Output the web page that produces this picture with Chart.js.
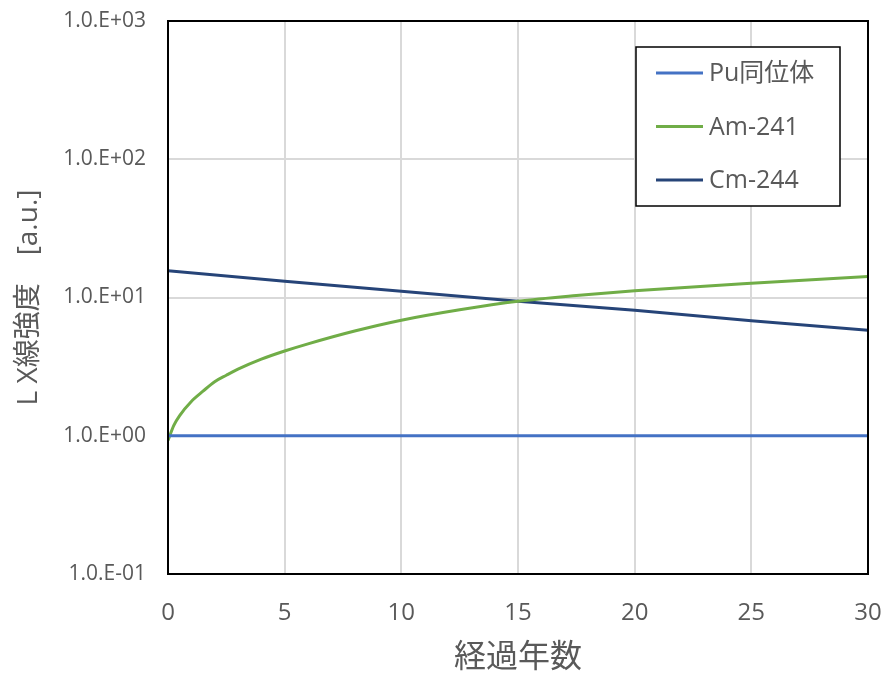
<!DOCTYPE html>
<html>
<head>
<meta charset="utf-8">
<script src="https://cdn.jsdelivr.net/npm/chart.js@4.4.1/dist/chart.umd.min.js"></script>
<style>
  html, body { margin: 0; padding: 0; background: #fff; }
  #wrap { width: 890px; height: 679px; }
</style>
</head>
<body>
<div id="wrap"><canvas id="chart_lx"></canvas></div>
<script>
// elapsed years and LX intensity per nuclide
const pu_years = [0, 30];
const pu_values = [1, 1];

const am_years = [0, 0.25, 0.5, 1, 1.5, 2, 2.5, 3, 4, 5, 6, 8, 10, 12.5, 15, 17.5, 20, 25, 30];
const am_values = [0.925, 1.19, 1.4, 1.77, 2.1, 2.46, 2.74, 3.03, 3.58, 4.1, 4.62, 5.72, 6.85, 8.15, 9.4, 10.35, 11.2, 12.7, 14.2];

const cm_years = [0, 5, 10, 15, 20, 25, 30];
const cm_values = [15.6, 13.1, 11.1, 9.4, 8.1, 6.8, 5.8];

const y_ticks = [0.1, 1, 10, 100, 1000];
const series_names = ["Pu同位体", "Am-241", "Cm-244"];
const series_colors = ["#4472C4", "#70AD47", "#264478"];

const font_family = "'Open Sans', 'Noto Sans CJK JP', sans-serif";
const text_gray = "#595959";

function toPoints(xs, ys){
    return xs.map(function(x, i){ return {x: x, y: ys[i]}; });
}

// Excel style "1.0.E+03"
function expLabel(v){
    const e = Math.round(Math.log10(v));
    const s = e < 0 ? "-" : "+";
    const n = Math.abs(e);
    return "1.0.E" + s + (n < 10 ? "0" + n : n);
}

// black frame round the plot area
const frame_plugin = {
    id: "frame",
    afterDatasetsDraw(chart){
        const a = chart.chartArea;
        const ctx = chart.ctx;
        ctx.save();
        ctx.strokeStyle = "#000";
        ctx.lineWidth = 2;
        ctx.strokeRect(a.left, a.top, a.right - a.left, a.bottom - a.top);
        ctx.restore();
    }
};

// boxed legend inside the plot, top right
const legend_box_plugin = {
    id: "legendBox",
    afterDraw(chart){
        const a = chart.chartArea;
        const ctx = chart.ctx;
        const bx = a.right - 232, by = a.top + 26, bw = 204, bh = 159;
        ctx.save();
        ctx.fillStyle = "#fff";
        ctx.fillRect(bx, by, bw, bh);
        ctx.strokeStyle = "#000";
        ctx.lineWidth = 1.5;
        ctx.strokeRect(bx, by, bw, bh);
        ctx.font = "25px " + font_family;
        ctx.textBaseline = "middle";
        ctx.fillStyle = text_gray;
        chart.data.datasets.forEach(function(ds, i){
            const yy = by + 26 + i * 53.5;
            ctx.strokeStyle = ds.borderColor;
            ctx.lineWidth = 3;
            ctx.beginPath();
            ctx.moveTo(bx + 20, yy);
            ctx.lineTo(bx + 67, yy);
            ctx.stroke();
            ctx.fillText(ds.label, bx + 73, yy + 1);
        });
        ctx.restore();
    }
};

const ctx_lx = document.querySelector("#chart_lx").getContext("2d");

const chart_lx = new Chart(ctx_lx, {
    type: "line",
    data: {
        datasets: [
            {label: series_names[0], data: toPoints(pu_years, pu_values), borderColor: series_colors[0]},
            {label: series_names[1], data: toPoints(am_years, am_values), borderColor: series_colors[1], cubicInterpolationMode: "monotone"},
            {label: series_names[2], data: toPoints(cm_years, cm_values), borderColor: series_colors[2]}
        ]
    },
    options: {
        responsive: true,
        maintainAspectRatio: false,
        animation: false,
        layout: { padding: {top: 21, right: 22, left: 0, bottom: 0} },
        elements: {
            point: { radius: 0 },
            line: { borderWidth: 3, fill: false }
        },
        plugins: {
            legend: { display: false },
            tooltip: { enabled: false }
        },
        scales: {
            x: {
                type: "linear",
                min: 0,
                max: 30,
                border: { display: false },
                grid: { color: "#D9D9D9", lineWidth: 2, drawTicks: false },
                ticks: {
                    stepSize: 5,
                    padding: 25,
                    color: text_gray,
                    font: { family: font_family, size: 24 }
                },
                title: {
                    display: true,
                    text: "経過年数",
                    color: text_gray,
                    padding: 2,
                    font: { family: font_family, size: 32 }
                },
                afterFit(scale){
                    scale.height = 105;
                    scale.paddingLeft = 0;
                    scale.paddingRight = 0;
                }
            },
            y: {
                type: "logarithmic",
                min: 0.1,
                max: 1000,
                border: { display: false },
                grid: { color: "#D9D9D9", lineWidth: 2, drawTicks: false },
                afterBuildTicks(scale){
                    scale.ticks = y_ticks.map(function(v){ return {value: v}; });
                },
                ticks: {
                    padding: 22,
                    color: text_gray,
                    font: { family: font_family, size: 21 },
                    major: { enabled: false },
                    callback: function(v){ return expLabel(v); }
                },
                title: {
                    display: true,
                    text: "L X線強度　[a.u.]",
                    color: text_gray,
                    padding: 12,
                    font: { family: font_family, size: 28 }
                },
                afterFit(scale){
                    scale.width = 168;
                    scale.paddingTop = 0;
                    scale.paddingBottom = 0;
                }
            }
        }
    },
    plugins: [frame_plugin, legend_box_plugin]
});
</script>
</body>
</html>
